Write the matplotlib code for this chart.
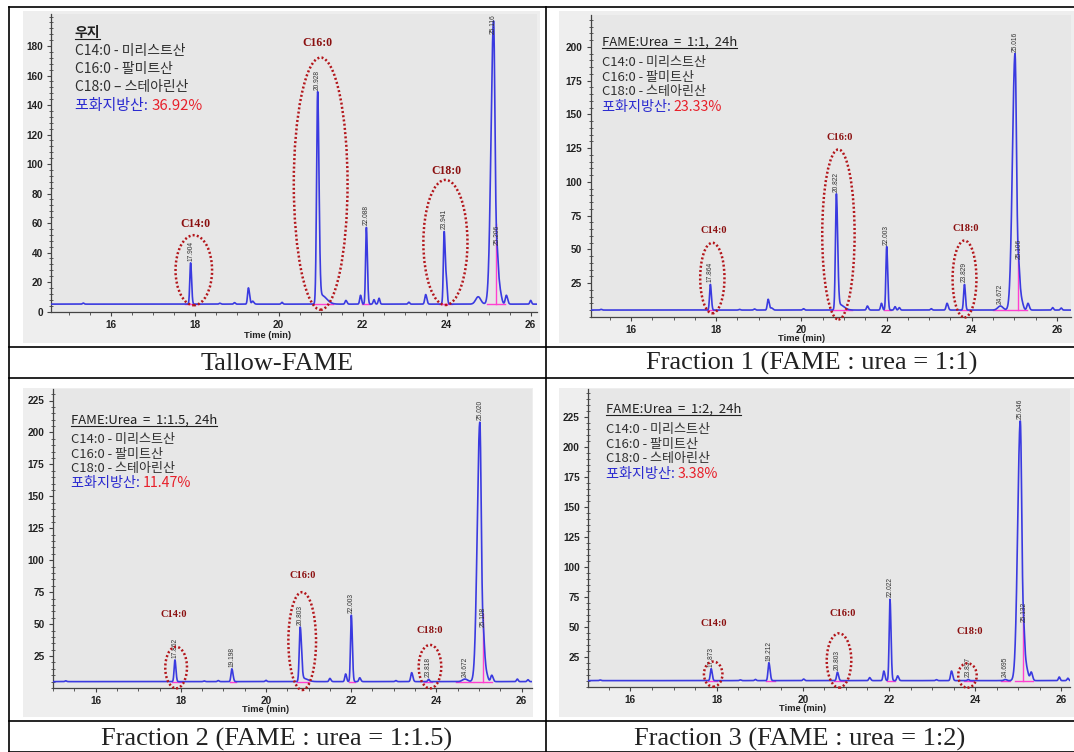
import numpy as np
import matplotlib.pyplot as plt
from matplotlib.patches import Ellipse, Rectangle
from matplotlib.lines import Line2D
from matplotlib.ticker import MultipleLocator

plt.rcParams['font.family'] = ['Noto Sans CJK KR', 'DejaVu Sans']

# === peak tables ===
# (retention time [min], height above baseline, sigma left, sigma right)
baseline = 5.0

tallow_peaks = [
    (15.35, 0.7, 0.02, 0.02), (17.904, 28, 0.019, 0.023), (18.6, 0.6, 0.02, 0.02),
    (18.95, 1.0, 0.02, 0.02), (19.28, 11, 0.02, 0.027), (19.38, 2, 0.02, 0.03),
    (20.08, 1.2, 0.02, 0.02), (20.928, 143, 0.025, 0.032), (21.02, 6, 0.05, 0.12),
    (21.6, 2.5, 0.02, 0.025), (21.95, 6, 0.02, 0.022), (22.088, 52, 0.019, 0.024),
    (22.27, 3, 0.02, 0.02), (22.39, 4, 0.02, 0.02), (23.1, 1.3, 0.02, 0.02),
    (23.5, 6.5, 0.022, 0.027), (23.941, 49, 0.02, 0.022), (23.99, 16, 0.017, 0.022),
    (24.75, 5, 0.06, 0.06), (25.116, 192, 0.06, 0.036), (25.206, 30, 0.022, 0.027),
    (25.26, 10, 0.02, 0.04), (25.42, 6, 0.025, 0.03), (26.0, 2.5, 0.02, 0.02),
]
frac1_peaks = [
    (15.3, 0.5, 0.02, 0.02), (17.864, 19, 0.019, 0.023), (18.55, 0.5, 0.02, 0.02),
    (18.9, 0.8, 0.02, 0.02), (19.22, 8, 0.02, 0.027), (19.3, 1.5, 0.02, 0.03),
    (20.05, 1, 0.02, 0.02), (20.822, 85, 0.022, 0.03), (20.9, 4, 0.05, 0.1),
    (21.55, 3, 0.02, 0.025), (21.88, 5, 0.02, 0.022), (22.003, 47, 0.019, 0.024),
    (22.2, 2.5, 0.02, 0.02), (22.3, 1.8, 0.02, 0.02), (23.05, 1, 0.02, 0.02),
    (23.42, 5, 0.022, 0.027), (23.829, 19, 0.02, 0.022), (24.672, 3, 0.06, 0.06),
    (25.016, 190, 0.06, 0.036), (25.106, 28, 0.022, 0.027), (25.16, 8, 0.02, 0.04),
    (25.32, 5, 0.025, 0.03), (25.9, 1.8, 0.02, 0.02), (26.1, 1.5, 0.02, 0.02),
]
frac2_peaks = [
    (15.3, 0.6, 0.02, 0.02), (17.862, 17, 0.019, 0.023), (18.55, 0.5, 0.02, 0.02),
    (18.88, 0.8, 0.02, 0.02), (19.198, 10, 0.02, 0.027), (20.0, 1, 0.02, 0.02),
    (20.803, 42, 0.022, 0.03), (20.88, 2.5, 0.05, 0.1), (21.5, 2.5, 0.02, 0.025),
    (21.87, 6, 0.02, 0.022), (22.003, 52, 0.019, 0.024), (22.2, 3, 0.02, 0.025),
    (23.05, 0.8, 0.02, 0.02), (23.42, 7, 0.022, 0.027), (23.818, 1.8, 0.02, 0.02),
    (24.672, 2, 0.06, 0.06), (25.020, 203, 0.06, 0.036), (25.108, 31, 0.022, 0.027),
    (25.16, 8, 0.02, 0.04), (25.3, 5, 0.025, 0.03), (25.9, 2, 0.02, 0.02),
    (26.15, 1.5, 0.02, 0.02),
]
frac3_peaks = [
    (15.3, 0.5, 0.02, 0.02), (17.873, 10, 0.02, 0.024), (18.55, 0.6, 0.02, 0.02),
    (18.9, 1, 0.02, 0.02), (19.212, 15, 0.02, 0.027), (20.02, 1.3, 0.02, 0.02),
    (20.803, 7, 0.02, 0.026), (21.55, 2.5, 0.02, 0.025), (21.88, 8, 0.02, 0.024),
    (22.022, 68, 0.019, 0.024), (22.2, 4, 0.02, 0.025), (23.1, 0.8, 0.02, 0.02),
    (23.45, 8, 0.022, 0.027), (23.837, 1, 0.02, 0.02), (24.695, 1, 0.03, 0.03),
    (25.046, 217, 0.06, 0.036), (25.132, 35, 0.022, 0.027), (25.19, 10, 0.02, 0.04),
    (25.3, 7, 0.025, 0.03), (25.95, 3, 0.02, 0.02), (26.15, 2, 0.02, 0.02),
]

# labelled retention times
tallow_rt = [17.904, 20.928, 22.088, 23.941, 25.116, 25.206]
frac1_rt = [17.864, 20.822, 22.003, 23.829, 24.672, 25.016, 25.106]
frac2_rt = [17.862, 19.198, 20.803, 22.003, 23.818, 24.672, 25.020, 25.108]
frac3_rt = [17.873, 19.212, 20.803, 22.022, 23.837, 24.695, 25.046, 25.132]

# integration baselines and drop lines
tallow_int = [(17.78, 18.1), (20.85, 21.3), (21.98, 22.18), (23.82, 24.12), (24.95, 25.4)]
frac1_int = [(17.78, 18.05), (20.72, 21.2), (21.95, 22.1), (23.72, 23.95), (24.5, 24.85), (24.88, 25.3)]
frac2_int = [(17.8, 18.0), (19.15, 19.3), (20.72, 21.0), (21.95, 22.1), (23.72, 23.9), (24.45, 24.85), (24.88, 25.3)]
frac3_int = [(17.8, 18.0), (19.15, 19.35), (20.72, 20.95), (21.95, 22.15), (23.75, 23.95), (24.6, 24.8), (24.92, 25.35)]
drops = [25.18, 25.09, 25.09, 25.115]

xticks = [16, 18, 20, 22, 24, 26]
tallow_yticks = [0, 20, 40, 60, 80, 100, 120, 140, 160, 180]
frac1_yticks = [25, 50, 75, 100, 125, 150, 175, 200]
frac_yticks = [25, 50, 75, 100, 125, 150, 175, 200, 225]

titles = ['우지', 'FAME:Urea  =  1:1,  24h', 'FAME:Urea  =  1:1.5,  24h', 'FAME:Urea  =  1:2,  24h']
saturated = ['36.92%', '23.33%', '11.47%', '3.38%']
captions = ['Tallow-FAME', 'Fraction 1 (FAME : urea = 1:1)',
            'Fraction 2 (FAME : urea = 1:1.5)', 'Fraction 3 (FAME : urea = 1:2)']

# === layout (pixels of the 1074x752 picture) ===
W, H = 1074, 752
fig = plt.figure(figsize=(W / 100, H / 100), dpi=100)
fig.patch.set_facecolor('white')


def fx(px):
    return px / W


def fy(py):
    return 1 - py / H


def hline(x0, x1, y, **kw):
    fig.add_artist(Line2D([fx(x0), fx(x1)], [fy(y), fy(y)], transform=fig.transFigure, **kw))


def vline(x, y0, y1, **kw):
    fig.add_artist(Line2D([fx(x), fx(x)], [fy(y0), fy(y1)], transform=fig.transFigure, **kw))


def trace(t, peaks):
    y = np.full_like(t, baseline)
    for rt, h, sl, sr in peaks:
        s = np.where(t < rt, sl, sr)
        y += h * np.exp(-0.5 * ((t - rt) / s) ** 2)
    return y


panels = [
    dict(peaks=tallow_peaks, rts=tallow_rt, ints=tallow_int, yticks=tallow_yticks, yminor=4,
         box=(51.4, 14, 537, 311.5), xlim=(14.59, 26.15), ylim=(0, 201.7),
         bg=(22.6, 11, 540, 343), tx=74.7, ty=[33.3, 51, 69.5, 87.5, 106], fs=10.0,
         xlab=24.5, c18='C18:0 – 스테아린산',
         ell=[('C14:0', 17.98, 28, 0.87, 47.5, 18.03, 59.3),
              ('C16:0', 21.0, 86.7, 1.28, 171, 20.92, 182),
              ('C18:0', 23.97, 46.8, 1.05, 84.8, 24.0, 95)], efs=8.5),
    dict(peaks=frac1_peaks, rts=frac1_rt, ints=frac1_int, yticks=frac1_yticks, yminor=5,
         box=(590.5, 14.7, 1071, 316.8), xlim=(15.05, 26.33), ylim=(0, 223.8),
         bg=(558.5, 11, 1074, 343), tx=601.7, ty=[42.3, 62.7, 77.3, 91, 106.7], fs=9.4,
         xlab=21.5, c18='C18:0 - 스테아린산',
         ell=[('C14:0', 17.91, 28.7, 0.57, 52.3, 17.94, 63.6),
              ('C16:0', 20.87, 61, 0.76, 126, 20.89, 132.7),
              ('C18:0', 23.83, 28, 0.56, 57, 23.86, 65.5)], efs=7.5),
    dict(peaks=frac2_peaks, rts=frac2_rt, ints=frac2_int, yticks=frac_yticks, yminor=5,
         box=(52.8, 389, 531.8, 688), xlim=(14.995, 26.24), ylim=(0, 234),
         bg=(22.6, 388, 532.5, 716.7), tx=70.6, ty=[420, 440, 454.3, 468.3, 482.7], fs=9.4,
         xlab=21.3, c18='C18:0 - 스테아린산',
         ell=[('C14:0', 17.89, 16, 0.51, 32.5, 17.84, 57.7),
              ('C16:0', 20.85, 36.7, 0.65, 76.6, 20.85, 88),
              ('C18:0', 23.85, 16.7, 0.53, 34, 23.85, 44.9)], efs=7.5),
    dict(peaks=frac3_peaks, rts=frac3_rt, ints=frac3_int, yticks=frac_yticks, yminor=5,
         box=(588.2, 389, 1069.6, 686.6), xlim=(15.02, 26.19), ylim=(0, 248.7),
         bg=(558.5, 388, 1074, 716.7), tx=605.7, ty=[409, 429.3, 444.3, 458.3, 474.3], fs=9.4,
         xlab=21.7, c18='C18:0 - 스테아린산',
         ell=[('C14:0', 17.92, 10.4, 0.43, 21, 17.93, 52.9),
              ('C16:0', 20.84, 21.8, 0.57, 45.4, 20.93, 61.2),
              ('C18:0', 23.82, 9.3, 0.43, 20.4, 23.87, 45.9)], efs=7.5),
]

underline_texts = []

for i, p in enumerate(panels):
    # screenshot background
    bx0, by0, bx1, by1 = p['bg']
    fig.add_artist(Rectangle((fx(bx0), fy(by1)), fx(bx1 - bx0), (by1 - by0) / H,
                             transform=fig.transFigure, facecolor='#eeeeee', edgecolor='none', zorder=0))
    l, t, r, b = p['box']
    ax = fig.add_axes([fx(l), fy(b), (r - l) / W, (b - t) / H])
    ax.set_facecolor('#e7e7e7')
    ax.set_xlim(*p['xlim'])
    ax.set_ylim(*p['ylim'])

    tt = np.linspace(p['xlim'][0], p['xlim'][1], 4000)
    yy = trace(tt, p['peaks'])
    ax.plot(tt, yy, color='#3a3ae0', lw=1.2, zorder=3)

    # integration marks
    for s, e in p['ints']:
        ax.plot([s, e], [baseline, baseline], color='#ff40d0', lw=1.0, zorder=2)
    xd = drops[i]
    ax.plot([xd, xd], [baseline, np.interp(xd, tt, yy)], color='#ff40d0', lw=1.0, zorder=2)

    # retention time labels
    ytop = p['ylim'][1]
    for rt in p['rts']:
        ypk = np.interp(rt, tt, yy)
        if ypk > 0.9 * ytop:
            xy, va, off = (rt, ytop), 'top', (0, 0)
        else:
            xy, va, off = (rt, ypk), 'bottom', (0, 1.5)
        ax.annotate(f'{rt:.3f}', xy=xy, xytext=off, textcoords='offset points',
                    rotation=90, ha='center', va=va, fontsize=4.8, color='#333333',
                    family='Liberation Sans', annotation_clip=False)

    # circled peaks
    for name, cx, cy, ew, eh, lx, ly in p['ell']:
        ax.add_patch(Ellipse((cx, cy), ew, eh, fill=False, edgecolor='#b3161b', lw=1.8,
                             linestyle=(0, (0.8, 0.9)), clip_on=False, zorder=4))
        ax.text(lx, ly, name, ha='center', va='center', fontsize=p['efs'], color='#8b1010',
                family='Liberation Serif', fontweight='bold')

    # axes styling
    for sp in ['top', 'right']:
        ax.spines[sp].set_visible(False)
    for sp in ['left', 'bottom']:
        ax.spines[sp].set_color('#444444')
        ax.spines[sp].set_linewidth(0.9)
    ax.set_xticks(xticks)
    ax.set_xticklabels([str(v) for v in xticks], fontweight='bold', family='Liberation Sans',
                       fontsize=7.2, color='#222222')
    ax.set_yticks(p['yticks'])
    ax.set_yticklabels([str(v) for v in p['yticks']], fontweight='bold', family='Liberation Sans',
                       fontsize=7.2, color='#222222')
    ax.xaxis.set_minor_locator(MultipleLocator(0.5))
    ax.yaxis.set_minor_locator(MultipleLocator(p['yminor']))
    ax.tick_params(which='major', length=3, width=0.8, color='#444444', pad=3)
    ax.tick_params(axis='y', which='minor', length=2.5, width=0.6, direction='inout', color='#444444')
    ax.tick_params(axis='x', which='minor', length=2, width=0.6, color='#444444')
    ax.annotate('Time (min)', xy=(20 if i else 19.74, 0), xycoords=ax.get_xaxis_transform(),
                xytext=(0, -p['xlab'] * 0.72), textcoords='offset points', ha='center', va='center',
                fontsize=6.7, fontweight='bold', family='Liberation Sans', color='#222222')

    # legend-like text block
    tx, ty, fs = p['tx'], p['ty'], p['fs']
    ttl = fig.text(fx(tx), fy(ty[0]), titles[i], fontsize=fs,
                   fontweight='bold' if i == 0 else 'normal', color='#202020', va='center', ha='left')
    underline_texts.append((ttl, ty[0]))
    for line, yv in zip(['C14:0 - 미리스트산', 'C16:0 - 팔미트산', p['c18']], ty[1:4]):
        fig.text(fx(tx), fy(yv), line, fontsize=fs, color='#303030', va='center', ha='left')
    blue = fig.text(fx(tx), fy(ty[4]), '포화지방산: ', fontsize=fs + 0.8, color='#2b2bd0',
                    va='center', ha='left')
    ax.annotate(saturated[i], xy=(1, 0.5), xycoords=blue, va='center', ha='left',
                fontsize=fs + 0.8, color='#e8202a')

# table grid
lk = dict(color='black', lw=1.2, zorder=10)
hline(9, W, 7, **lk)
hline(9, W, 347, **lk)
hline(9, W, 378.5, **lk)
hline(9, W, 721, **lk)
hline(9, W, 751.5, **lk)
vline(9.3, 7, 752, **lk)
vline(546, 7, 752, **lk)

cap_pos = [(277, 370), (812, 370), (277, 746), (800, 746)]
for cap, (cx, cy) in zip(captions, cap_pos):
    fig.text(fx(cx), fy(cy), cap, ha='center', va='baseline', fontsize=19,
             family='Liberation Serif', color='#222222')

# underline the block titles
fig.canvas.draw()
rend = fig.canvas.get_renderer()
for ttl, yv in underline_texts:
    bb = ttl.get_window_extent(rend)
    hline(bb.x0, bb.x1, yv + 6, color='#202020', lw=0.8)

fig.savefig('out.png', dpi=100)
